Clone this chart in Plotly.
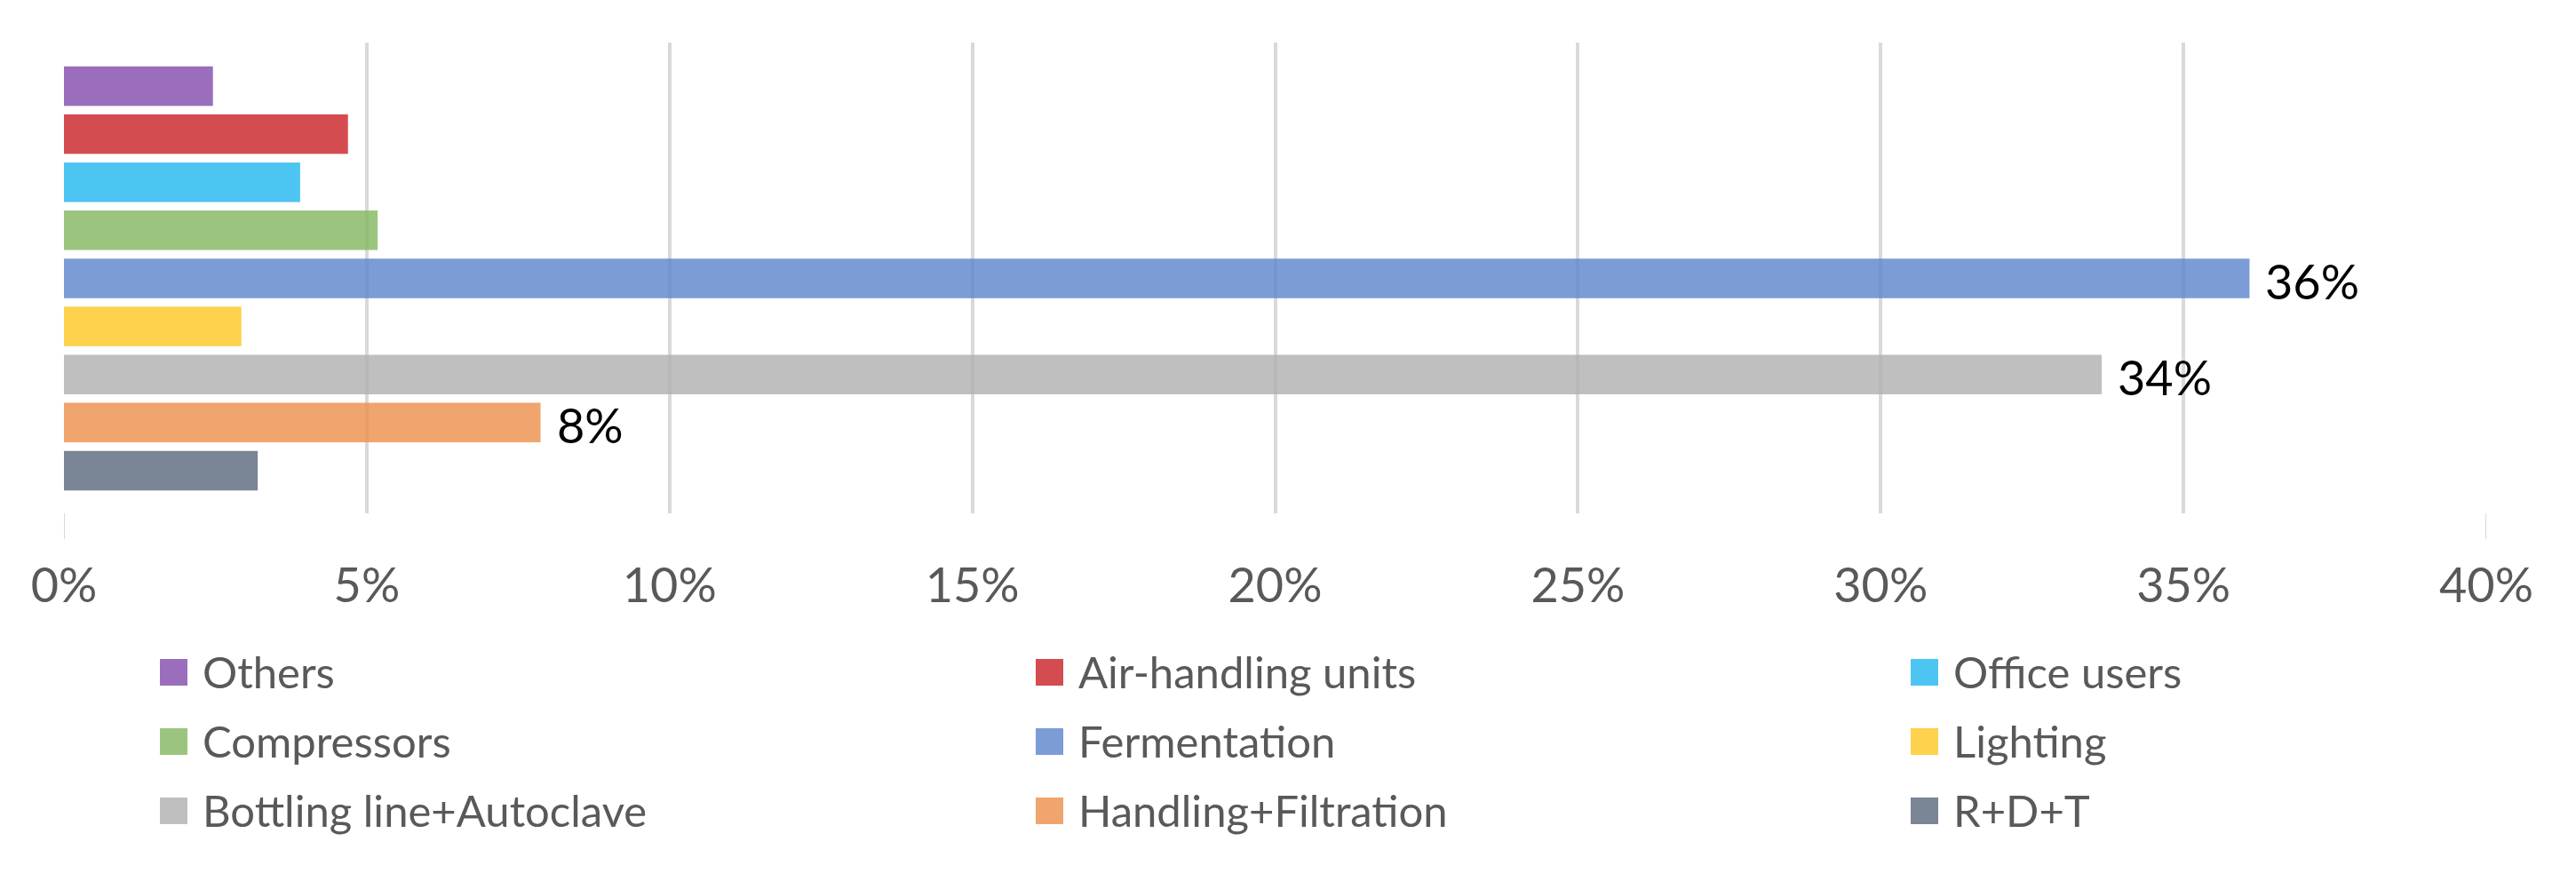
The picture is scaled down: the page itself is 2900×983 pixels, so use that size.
import plotly.graph_objects as go

# ---------------- data ----------------
categories = ["Others", "Air-handling units", "Office users", "Compressors",
              "Fermentation", "Lighting", "Bottling line+Autoclave",
              "Handling+Filtration", "R+D+T"]
values = [0.0246, 0.0469, 0.0390, 0.0518, 0.3609, 0.0293, 0.3365, 0.0787, 0.0320]
labelled = ["Fermentation", "Bottling line+Autoclave", "Handling+Filtration"]
tick_vals = [0, 0.05, 0.10, 0.15, 0.20, 0.25, 0.30, 0.35, 0.40]
tick_text = ["0%", "5%", "10%", "15%", "20%", "25%", "30%", "35%", "40%"]

# colours as they appear on white; bars are drawn semi-transparent
seen_colors = [(154, 110, 188), (212, 76, 79), (76, 197, 243), (155, 197, 126),
               (123, 156, 214), (254, 210, 76), (191, 191, 191), (240, 164, 110),
               (122, 133, 149)]

ALPHA = 0.8


def base_rgba(c):
    r, g, b = [max(0, min(255, round((v - (1 - ALPHA) * 255) / ALPHA))) for v in c]
    return f"rgba({r},{g},{b},{ALPHA})"


def solid(c):
    return "rgb(%d,%d,%d)" % c


W, H = 2900, 983
PL, PR, PT, PB = 72, 2799, 48, 578  # plot area in pixels


def px_x(p):
    return (p - PL) / (PR - PL)


def px_y(p):
    return (PB - p) / (PB - PT)


FONT = "Lato, 'Open Sans', sans-serif"

fig = go.Figure()
fig.add_trace(go.Bar(
    x=values, y=categories, orientation="h",
    marker=dict(color=[base_rgba(c) for c in seen_colors], line=dict(width=0)),
    showlegend=False, hoverinfo="x+y",
))

annotations = []
# data labels
for cat, v in zip(categories, values):
    if cat in labelled:
        annotations.append(dict(
            x=v, y=cat, xref="x", yref="y", text=f"{v:.0%}", showarrow=False,
            xanchor="left", yanchor="middle", xshift=16, yshift=-3,
            font=dict(family=FONT, size=54, color="#000000")))

# manual legend (3 columns, row-major)
shapes = []
col_x = [180, 1166, 2151]
row_y = [757, 835, 913]
for i, (cat, c) in enumerate(zip(categories, seen_colors)):
    cx = col_x[i % 3]
    cy = row_y[i // 3]
    shapes.append(dict(type="rect", xref="paper", yref="paper",
                       xsizemode="pixel", ysizemode="pixel",
                       xanchor=px_x(cx), yanchor=px_y(cy),
                       x0=0, x1=31, y0=-15, y1=15,
                       fillcolor=solid(c), line=dict(width=0)))
    annotations.append(dict(x=px_x(cx + 46), y=px_y(cy), xref="paper", yref="paper",
                            text=cat, showarrow=False, xanchor="left", yanchor="middle",
                            yshift=1,
                            font=dict(family=FONT, size=49, color="#595959")))

# small tick extensions at the ends of the value axis
for xv in (tick_vals[0], tick_vals[-1]):
    shapes.append(dict(type="line", xref="x", yref="paper", ysizemode="pixel",
                       yanchor=0, x0=xv, x1=xv, y0=0, y1=-29,
                       line=dict(color="#d9d9d9", width=2), layer="below"))

fig.update_layout(
    width=W, height=H,
    paper_bgcolor="white", plot_bgcolor="white",
    margin=dict(l=PL, r=W - PR, t=PT, b=H - PB, autoexpand=False),
    bargap=0.178,
    xaxis=dict(range=[0, 0.40], tickvals=tick_vals, ticktext=tick_text,
               showgrid=True, gridcolor="#d9d9d9", gridwidth=4,
               zeroline=False, showline=False, ticks="",
               ticklabelstandoff=45,
               tickfont=dict(family=FONT, size=54, color="#595959")),
    yaxis=dict(type="category", categoryorder="array", categoryarray=categories,
               range=[8.887, -0.905], showticklabels=False, showgrid=False,
               zeroline=False, showline=False, ticks=""),
    annotations=annotations, shapes=shapes,
    font=dict(family=FONT),
)

fig.write_html("out.html",
               config={"displayModeBar": False},
               post_script="document.body.style.margin='0';document.body.style.overflow='hidden';")
